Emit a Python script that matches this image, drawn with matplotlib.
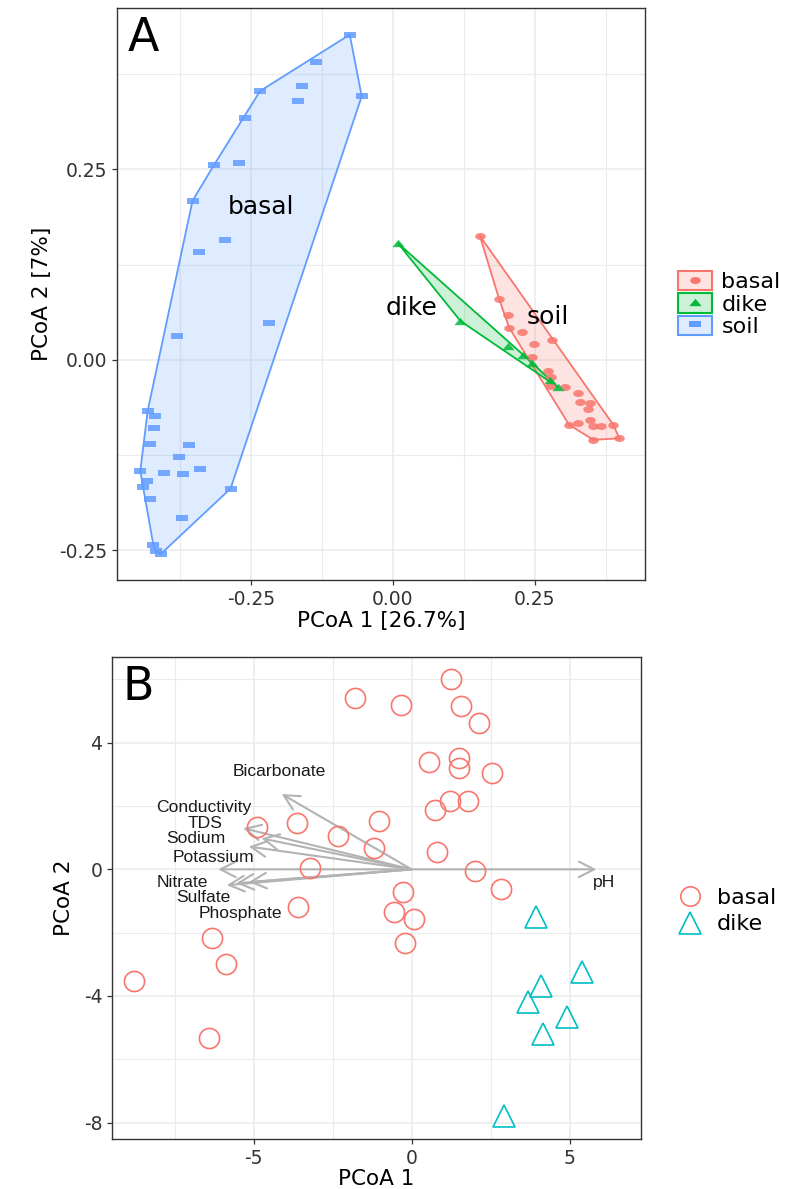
import numpy as np
import matplotlib
matplotlib.use("Agg")
import matplotlib.pyplot as plt
from matplotlib.path import Path
from matplotlib.patches import Polygon, Patch
from matplotlib.lines import Line2D
from matplotlib.colors import to_rgba

plt.rcParams['font.family'] = ['DejaVu Sans']
plt.rcParams['axes.unicode_minus'] = False

# ---------------- Panel A data ----------------
groupsA = ["basal", "dike", "soil"]
colorsA = ["#F8766D", "#00BA38", "#619CFF"]

basal_x = [0.153, 0.187, 0.203, 0.205, 0.228, 0.281, 0.248, 0.245, 0.273, 0.279, 0.276, 0.303,
           0.326, 0.329, 0.347, 0.344, 0.310, 0.326, 0.347, 0.352, 0.367, 0.388, 0.353, 0.399]
basal_y = [0.163, 0.080, 0.059, 0.042, 0.037, 0.026, 0.021, 0.004, -0.015, -0.022, -0.034, -0.035,
           -0.044, -0.055, -0.057, -0.064, -0.085, -0.083, -0.079, -0.087, -0.087, -0.085, -0.105, -0.103]

dike_x = [0.009, 0.119, 0.203, 0.229, 0.245, 0.276, 0.291]
dike_y = [0.153, 0.051, 0.018, 0.007, -0.004, -0.026, -0.036]

soil_x = [-0.076, -0.136, -0.161, -0.167, -0.055, -0.234, -0.260, -0.315, -0.271, -0.353, -0.295,
          -0.341, -0.218, -0.381, -0.432, -0.419, -0.421, -0.427, -0.360, -0.376, -0.445, -0.404,
          -0.370, -0.339, -0.433, -0.440, -0.286, -0.428, -0.372, -0.422, -0.418, -0.409]
soil_y = [0.427, 0.391, 0.360, 0.340, 0.346, 0.353, 0.318, 0.256, 0.259, 0.209, 0.157, 0.141,
          0.049, 0.031, -0.067, -0.074, -0.089, -0.111, -0.112, -0.128, -0.146, -0.148, -0.150,
          -0.143, -0.159, -0.167, -0.169, -0.183, -0.207, -0.243, -0.251, -0.255]

# in-plot group labels (as printed in the original)
labelA_text = ["basal", "dike", "soil"]
labelA_x = [-0.232, 0.033, 0.273]
labelA_y = [0.201, 0.068, 0.056]

xticksA = [-0.25, 0.0, 0.25]
xticklabelsA = ["-0.25", "0.00", "0.25"]
yticksA = [-0.25, 0.0, 0.25]
yticklabelsA = ["-0.25", "0.00", "0.25"]

# ---------------- Panel B data ----------------
groupsB = ["basal", "dike"]
colorsB = ["#F8766D", "#00BFC4"]

bB_x = [1.25, -1.79, -0.35, 1.56, 2.13, 0.55, 1.51, 1.51, 2.54, 1.22, 1.80, 0.75, -1.03, -2.33,
        -1.20, 0.79, -3.22, 2.01, 2.84, -0.28, -0.56, 0.07, -0.21, -3.62, -3.60, -4.89, -6.33,
        -5.87, -8.77, -6.41]
bB_y = [6.03, 5.43, 5.19, 5.17, 4.62, 3.40, 3.53, 3.21, 3.05, 2.17, 2.16, 1.87, 1.53, 1.06,
        0.66, 0.55, 0.03, -0.06, -0.63, -0.70, -1.36, -1.57, -2.34, 1.47, -1.20, 1.33, -2.17,
        -2.99, -3.53, -5.32]
dB_x = [3.95, 5.38, 4.10, 3.68, 4.92, 4.16, 2.94]
dB_y = [-1.51, -3.24, -3.69, -4.18, -4.68, -5.20, -7.79]

env_names = ["Bicarbonate", "Conductivity", "TDS", "Sodium", "Potassium",
             "Nitrate", "Sulfate", "Phosphate", "pH"]
env_x = [-4.11, -5.33, -4.75, -5.15, -6.12, -5.85, -5.55, -5.15, 5.85]
env_y = [2.38, 1.30, 0.98, 0.72, 0.00, -0.50, -0.44, -0.40, 0.00]
envlab_x = [-4.19, -6.59, -6.54, -6.83, -6.28, -7.25, -6.59, -5.43, 6.09]
envlab_y = [3.08, 1.95, 1.45, 0.96, 0.38, -0.42, -0.90, -1.38, -0.42]

xticksB = [-5, 0, 5]
yticksB = [-8, -4, 0, 4]


# ---------------- helpers ----------------
def convex_hull(xs, ys):
    pts = sorted(set(zip(xs, ys)))

    def cross(o, a, b):
        return (a[0] - o[0]) * (b[1] - o[1]) - (a[1] - o[1]) * (b[0] - o[0])

    lower = []
    for p in pts:
        while len(lower) >= 2 and cross(lower[-2], lower[-1], p) <= 0:
            lower.pop()
        lower.append(p)
    upper = []
    for p in reversed(pts):
        while len(upper) >= 2 and cross(upper[-2], upper[-1], p) <= 0:
            upper.pop()
        upper.append(p)
    return lower[:-1] + upper[:-1]


t = np.linspace(0, 2 * np.pi, 60)
ellipse_marker = Path(np.column_stack([np.cos(t), 0.66 * np.sin(t)]), closed=True)
rect_marker = Path([(-1, -0.5), (1, -0.5), (1, 0.5), (-1, 0.5), (-1, -0.5)], closed=True)
tri_marker = Path([(0, 0.6), (-1, -0.6), (1, -0.6), (0, 0.6)], closed=True)
markersA = [ellipse_marker, tri_marker, rect_marker]
msA = [7.6, 8.8, 8.6]

GRID = "#EBEBEB"
SPINE = "#333333"


def style_axes(ax):
    ax.set_axisbelow(True)
    ax.grid(which="major", color=GRID, lw=1.1)
    ax.grid(which="minor", color=GRID, lw=0.8)
    for s in ax.spines.values():
        s.set_color(SPINE)
        s.set_linewidth(1.0)
    ax.tick_params(which="major", length=3.5, width=0.9, color=SPINE,
                   labelcolor="#333333", labelsize=13.5)
    ax.tick_params(which="minor", length=0)


fig = plt.figure(figsize=(7.88, 11.89), dpi=100)

# ---------------- Panel A ----------------
axA = fig.add_axes([117 / 788, 1 - 580 / 1189, 528 / 788, 572 / 1189])
style_axes(axA)
dataA = [(basal_x, basal_y), (dike_x, dike_y), (soil_x, soil_y)]
for (xs, ys), col, mk, ms in zip(dataA, colorsA, markersA, msA):
    hull = convex_hull(xs, ys)
    axA.add_patch(Polygon(hull, closed=True, facecolor=to_rgba(col, 0.2),
                          edgecolor=col, lw=1.3, zorder=2))
    axA.plot(xs, ys, linestyle="None", marker=mk, ms=ms, color=col, alpha=0.85,
             markeredgewidth=0, zorder=3)
for txt, x, y in zip(labelA_text, labelA_x, labelA_y):
    axA.text(x, y, txt, fontsize=18, ha="center", va="center", color="black", zorder=4)

axA.set_xlim(-0.486, 0.444)
axA.set_ylim(-0.289, 0.462)
axA.set_xticks(xticksA, xticklabelsA)
axA.set_yticks(yticksA, yticklabelsA)
axA.set_xticks([-0.375, -0.125, 0.125, 0.375], minor=True)
axA.set_yticks([-0.125, 0.125, 0.375], minor=True)
axA.set_xlabel("PCoA 1 [26.7%]", fontsize=15.5, labelpad=2)
axA.set_ylabel("PCoA 2 [7%]", fontsize=15.5, labelpad=5)
axA.text(0.021, 0.925, "A", transform=axA.transAxes, fontsize=33, ha="left",
         va="baseline", color="black")

handlesA = [(Patch(facecolor=to_rgba(c, 0.2), edgecolor=c, lw=1.5),
             Line2D([], [], linestyle="None", marker=m, ms=ms, color=c, markeredgewidth=0))
            for c, m, ms in zip(colorsA, markersA, msA)]
fig.legend(handlesA, groupsA, loc="center left",
           bbox_to_anchor=(678 / 788, 1 - 304 / 1189), frameon=False, fontsize=16,
           handlelength=1.55, handleheight=0.95, labelspacing=0.05, handletextpad=0.4,
           borderpad=0, borderaxespad=0)

# ---------------- Panel B ----------------
axB = fig.add_axes([112 / 788, 1 - 1139 / 1189, 529 / 788, 482 / 1189])
style_axes(axB)
for name, x, y, lx, ly in zip(env_names, env_x, env_y, envlab_x, envlab_y):
    axB.annotate("", xy=(x, y), xytext=(0, 0),
                 arrowprops=dict(arrowstyle="->,head_length=0.55,head_width=0.28",
                                 color="#B3B3B3", lw=1.5, shrinkA=0, shrinkB=0,
                                 mutation_scale=20), zorder=2)
    axB.text(lx, ly, name, fontsize=12.6, family=["Liberation Sans", "DejaVu Sans"],
             ha="center", va="center", color="#1A1A1A", zorder=4)
axB.plot(bB_x, bB_y, linestyle="None", marker="o", ms=14.5, markerfacecolor="none",
         markeredgecolor=colorsB[0], markeredgewidth=1.2, zorder=3)
axB.plot(dB_x, dB_y, linestyle="None", marker="^", ms=16, markerfacecolor="none",
         markeredgecolor=colorsB[1], markeredgewidth=1.2, zorder=3)

axB.set_xlim(-9.48, 7.26)
axB.set_ylim(-8.52, 6.71)
axB.set_xticks(xticksB, [str(v) for v in xticksB])
axB.set_yticks(yticksB, [str(v) for v in yticksB])
axB.set_xticks([-7.5, -2.5, 2.5], minor=True)
axB.set_yticks([-6, -2, 2, 6], minor=True)
axB.set_xlabel("PCoA 1", fontsize=15.5, labelpad=1)
axB.set_ylabel("PCoA 2", fontsize=15.5, labelpad=7)
axB.text(0.019, 0.911, "B", transform=axB.transAxes, fontsize=33, ha="left",
         va="baseline", color="black")

handlesB = [Line2D([], [], linestyle="None", marker="o", ms=14, markerfacecolor="none",
                   markeredgecolor=colorsB[0], markeredgewidth=1.2),
            Line2D([], [], linestyle="None", marker="^", ms=16, markerfacecolor="none",
                   markeredgecolor=colorsB[1], markeredgewidth=1.2)]
fig.legend(handlesB, groupsB, loc="center left",
           bbox_to_anchor=(676 / 788, 1 - 911 / 1189), frameon=False, fontsize=16,
           handlelength=1.3, labelspacing=0.3, handletextpad=0.55,
           borderpad=0, borderaxespad=0)

fig.savefig("out.png", dpi=100)
